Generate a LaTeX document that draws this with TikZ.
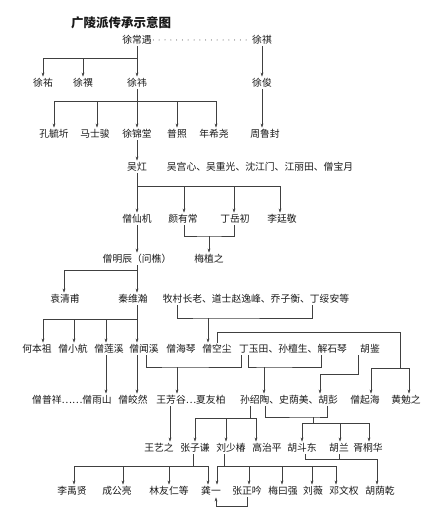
\documentclass[tikz,border=0pt]{standalone}
\usepackage{fontspec}
\setmainfont{Noto Sans CJK SC}
\usetikzlibrary{arrows.meta}

\begin{document}
\begin{tikzpicture}[x=1pt, y=-1pt,
    person/.style={font=\fontsize{9.8}{11}\selectfont, text=black!90, inner sep=1.5pt, text height=8pt, text depth=1.5pt},
    link/.style={draw=black!75, line width=0.5pt},
    arr/.style={link, -{Stealth[length=4pt, width=2.8pt]}},
    dotline/.style={draw=black!80, line width=1pt, line cap=round, dash pattern=on 0pt off 5.8pt}]
    \useasboundingbox (0,0) rectangle (439,526);

    \node[font=\fontsize{12.5}{14}\selectfont\bfseries, text=black!90] (title) at (121,23) {广陵派传承示意图};

    % people, row by row
    \node[person] (xcy) at (137,40) {徐常遇};
    \node[person] (xq)  at (262,40) {徐祺};

    \node[person] (xy1) at (43,83)  {徐祐};
    \node[person] (xy2) at (83,83)  {徐禩};
    \node[person] (xw)  at (137,83) {徐祎};
    \node[person] (xj)  at (262,83) {徐俊};

    \node[person] (kyq) at (54,134)  {孔毓圻};
    \node[person] (mss) at (95,134)  {马士骏};
    \node[person] (xjt) at (137,134) {徐锦堂};
    \node[person] (pz)  at (177,134) {普照};
    \node[person] (nxy) at (214,134) {年希尧};
    \node[person] (zlf) at (265,134) {周鲁封};

    \node[person] (wh)  at (137,167) {吴灴};
    \node[person] (wgx) at (260,167) {吴宫心、吴重光、沈江门、江丽田、僧宝月};

    \node[person] (zxj) at (137,219) {僧仙机};
    \node[person] (yyc) at (183,219) {颜有常};
    \node[person] (dyc) at (235,219) {丁岳初};
    \node[person] (ltj) at (282,219) {李廷敬};

    \node[person] (zmc) at (137,259) {僧明辰（问樵）};
    \node[person] (mzz) at (209,259) {梅植之};

    \node[person] (yqf) at (65,299)  {袁清甫};
    \node[person] (qwh) at (133,299) {秦维瀚};
    \node[person] (mcz) at (256,299) {牧村长老、道士赵逸峰、乔子衡、丁绥安等};

    \node[person] (hbz) at (37,349)  {何本祖};
    \node[person] (zxh) at (73,349)  {僧小航};
    \node[person] (zlx) at (109,349) {僧莲溪};
    \node[person] (zwx) at (144,349) {僧闻溪};
    \node[person] (zhq) at (181,349) {僧海琴};
    \node[person] (zkc) at (217,349) {僧空尘};
    \node[person] (dyt) at (293,349) {丁玉田、孙檀生、解石琴};
    \node[person] (hj)  at (370,349) {胡鉴};

    \node[person] (zpx) at (72,400)  {僧普祥……僧雨山};
    \node[person] (zjr) at (133,400) {僧皎然};
    \node[person] (wfg) at (191,400) {王芳谷…夏友柏};
    \node[person] (ssy) at (289,400) {孙绍陶、史荫美、胡彭};
    \node[person] (zqh) at (365,400) {僧起海};
    \node[person] (hmz) at (406,400) {黄勉之};

    \node[person] (wyz) at (159,448) {王艺之};
    \node[person] (zzq) at (195,448) {张子谦};
    \node[person] (lsc) at (231,448) {刘少椿};
    \node[person] (gzp) at (267,448) {高治平};
    \node[person] (hdd) at (302,448) {胡斗东};
    \node[person] (hl)  at (339,448) {胡兰};
    \node[person] (xth) at (368,448) {胥桐华};

    \node[person] (lyx) at (72,491)  {李禹贤};
    \node[person] (cgl) at (117,491) {成公亮};
    \node[person] (lyr) at (169,491) {林友仁等};
    \node[person] (gy)  at (211,491) {龚一};
    \node[person] (zzy) at (247,491) {张正吟};
    \node[person] (myq) at (283,491) {梅曰强};
    \node[person] (lw)  at (313,491) {刘薇};
    \node[person] (dwq) at (344,491) {邓文权};
    \node[person] (hyq) at (380,491) {胡荫乾};

    % bus points
    \coordinate (b1) at (137,58);
    \coordinate (b2) at (137,101);
    \coordinate (b3) at (137,186);
    \coordinate (m1) at (209,236);
    \coordinate (b5) at (137,270);
    \coordinate (b6) at (137,319);
    \coordinate (m2) at (208,318);
    \coordinate (k1) at (400,332);
    \coordinate (b7) at (400,368);
    \coordinate (m3) at (177,367);
    \coordinate (m4) at (264,367);
    \coordinate (h1) at (320,374);
    \coordinate (b8) at (250,418);
    \coordinate (m5) at (313,417);
    \coordinate (b9) at (313,423);
    \coordinate (b10) at (193,466);
    \coordinate (b11) at (224,466);
    \coordinate (h2) at (377,459);
    \coordinate (g1) at (216,506);

    \draw[dotline] (xcy.east) -- (xq.west);

    % Xu Changyu line
    \draw[link] (xcy.south) -- (b1);
    \foreach \c in {xy1,xy2,xw} \draw[arr] (b1) -| (\c.north);
    \draw[link] (xw.south) -- (b2);
    \draw[arr] (b2) -| (kyq.north);
    \draw[arr] (b2) -| ([xshift=2pt]mss.north);
    \draw[arr] (b2) -| (xjt.north);
    \draw[arr] (b2) -| (pz.north);
    \draw[arr] (b2) -| ([xshift=2pt]nxy.north);
    \draw[arr] (xq) -- (xj);
    \draw[arr] (xj.south) -- (xj.south |- zlf.north);
    \draw[arr] (xjt) -- (wh);

    % Wu Hong
    \draw[link] (wh.south) -- (b3);
    \draw[arr] (b3) -| (zxj.north);
    \draw[arr] (b3) -| ([xshift=1pt]yyc.north);
    \draw[arr] (b3) -| ([xshift=-1pt]dyc.north);
    \draw[arr] (b3) -| ([xshift=-2pt]ltj.north);
    \draw[link] ([xshift=1pt]yyc.south) |- (m1) -| ([xshift=-1pt]dyc.south);
    \draw[arr] (m1) -- (mzz.north);
    \draw[arr] (zxj) -- (zmc);

    % Zeng Mingchen, Qin Weihan
    \draw[link] (zmc.south) -- (b5);
    \draw[arr] (b5) -| ([xshift=-1pt]yqf.north);
    \draw[arr] (b5) -| ([xshift=4pt]qwh.north);
    \draw[link] ([xshift=4pt]qwh.south) -- (b6);
    \draw[arr] (b6) -| ([xshift=6pt]hbz.north);
    \draw[arr] (b6) -| ([xshift=1pt]zxh.north);
    \draw[arr] (b6) -| ([xshift=-3pt]zlx.north);
    \draw[arr] (b6) -| ([xshift=-7pt]zwx.north);
    \draw[link] ([xshift=-79pt]mcz.south) |- (m2) -| ([xshift=56pt]mcz.south);
    \draw[arr] (m2) -- ([xshift=-9pt]zkc.north);

    % Kongchen line
    \draw[link] (zkc.north) |- (k1) -- (b7);
    \draw[arr] (b7) -| ([xshift=6pt]zqh.north);
    \draw[arr] (b7) -| ([xshift=3pt]hmz.north);

    \draw[arr] ([xshift=-3pt]zlx.south) -- ([xshift=34pt]zpx.north);
    \draw[arr] ([xshift=-7pt]zwx.south) -- ([xshift=4pt]zjr.north);
    \draw[link] ([xshift=2pt]zwx.south) |- (m3) -| ([xshift=-52pt]dyt.south);
    \draw[arr] (m3) -- ([xshift=-14pt]wfg.north);
    \draw[link] ([xshift=-45pt]dyt.south) |- (m4) -| ([xshift=28pt]dyt.south);
    \draw[arr] (m4) -- ([xshift=-25pt]ssy.north);
    \draw[arr] ([xshift=-12pt]hj.south) |- (h1) -- ([xshift=31pt]ssy.north);

    % Sun Shaotao and others
    \draw[arr] ([xshift=-21pt]wfg.south) -- ([xshift=11pt]wyz.north);
    \draw[link] ([xshift=-39pt]ssy.south) -- (b8);
    \draw[arr] (b8) -| (zzq.north);
    \draw[arr] (b8) -| ([xshift=-5pt]lsc.north);
    \draw[arr] (b8) -| ([xshift=-11pt]gzp.north);
    \draw[link] ([xshift=-24pt]ssy.south) |- (m5) -| ([xshift=38pt]ssy.south);
    \draw[link] (m5) -- (b9);
    \draw[arr] (b9) -| (hdd.north);
    \draw[arr] (b9) -| ([xshift=1pt]hl.north);
    \draw[arr] (b9) -| ([xshift=1pt]xth.north);

    % last row
    \draw[link] ([xshift=-2pt]zzq.south) -- (b10);
    \draw[arr] (b10) -| ([xshift=2pt]lyx.north);
    \draw[arr] (b10) -| ([xshift=6pt]cgl.north);
    \draw[arr] (b10) -| (lyr.north);
    \draw[arr] (b10) -| ([xshift=-3pt]gy.north);
    \draw[link] ([xshift=-7pt]lsc.south) -- (b11);
    \draw[arr] (b11) -| ([xshift=6pt]gy.north);
    \draw[arr] (b11) -| ([xshift=2pt]zzy.north);
    \draw[arr] (b11) -| ([xshift=-1pt]myq.north);
    \draw[arr] (b11) -| ([xshift=-1pt]lw.north);
    \draw[arr] (b11) -| ([xshift=-8pt]dwq.north);
    \draw[link] ([xshift=3pt]hdd.south) |- (h2);
    \draw[link] (hl.south) -- (hl.south |- h2);
    \draw[arr] (h2) -- ([xshift=-3pt]hyq.north);
    \draw[arr] (zzy.south) |- (g1) -- ([xshift=5pt]gy.south);
\end{tikzpicture}
\end{document}
